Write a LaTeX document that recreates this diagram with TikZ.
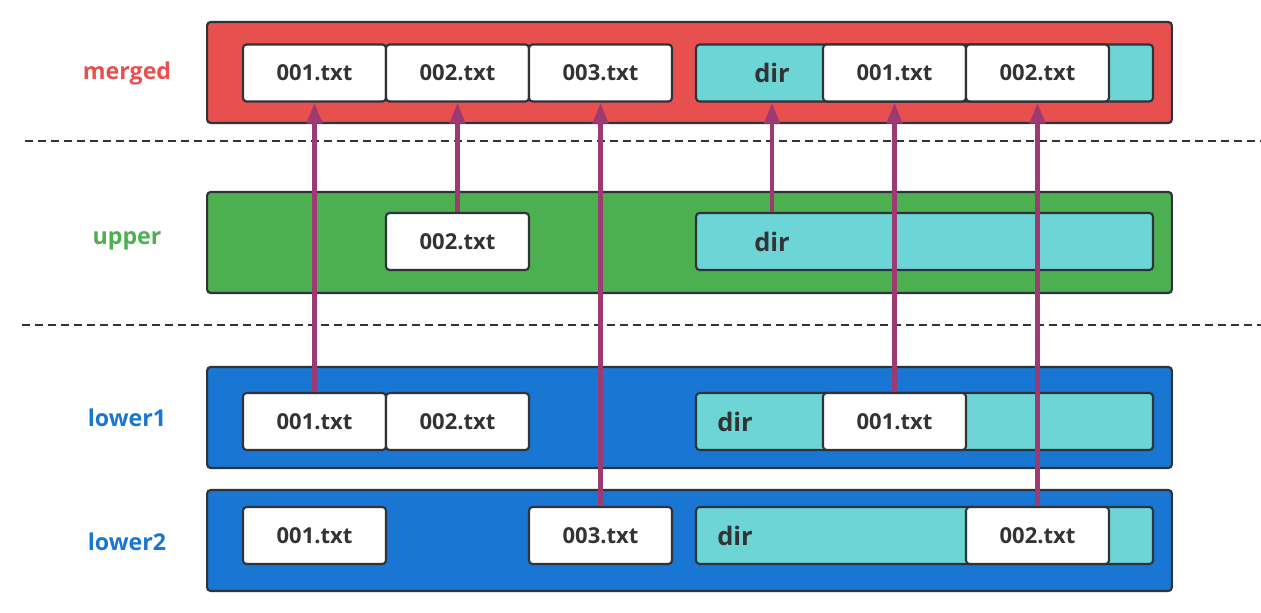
\documentclass[tikz,border=0pt]{standalone}
\usepackage{fontspec}
\setmainfont{Open Sans}
\usetikzlibrary{arrows.meta}
\definecolor{mergedred}{HTML}{E85050}
\definecolor{uppergreen}{HTML}{4CAF50}
\definecolor{lowerblue}{HTML}{1976D2}
\definecolor{dircyan}{HTML}{6DD5D6}
\definecolor{edgegray}{HTML}{2D3339}
\definecolor{textgray}{HTML}{333333}
\definecolor{linkpurple}{HTML}{9E3A72}
\tikzset{
    x=0.02cm, y=-0.02cm, % one unit is one pixel of the reference
    layer/.style={draw=edgegray, line width=1.2pt, rounded corners=2pt, minimum width=19.3cm, minimum height=2.02cm},
    dirbox/.style={draw=edgegray, line width=1.2pt, rounded corners=2pt, fill=dircyan, minimum width=9.14cm, minimum height=1.14cm},
    file/.style={draw=edgegray, line width=1.2pt, rounded corners=2pt, fill=white, text=textgray, font=\bfseries\fontsize{12.5}{14}\selectfont, minimum width=2.86cm, minimum height=1.14cm},
    dirtext/.style={text=textgray, font=\bfseries\fontsize{14.5}{16}\selectfont},
    tag/.style={font=\bfseries\fontsize{13.2}{15}\selectfont}, % the layer names on the left
    sep/.style={draw=edgegray, line width=1.5pt, dash pattern=on 0.17cm off 0.09cm},
    link/.style={draw=linkpurple, line width=2.6pt, -{Triangle[length=0.42cm, width=0.3cm]}},
}
\begin{document}
\begin{tikzpicture}
\useasboundingbox (0,0) rectangle (1261,612);
% layers
\node[layer, fill=mergedred]  (merged) at (689.5,72.5)  {};
\node[layer, fill=uppergreen] (upper)  at (689.5,242.5) {};
\node[layer, fill=lowerblue]  (lowa)   at (689.5,417.5) {};
\node[layer, fill=lowerblue]  (lowb)   at (689.5,540.5) {};
\node[tag, text=mergedred]  (tm) at (127,73)  {merged};
\node[tag, text=uppergreen] (tu) at (127,241) {upper};
\node[tag, text=lowerblue]  (ta) at (127,418) {lower1};
\node[tag, text=lowerblue]  (tb) at (127,542) {lower2};
\draw[sep] (25,141) -- (1261,141);
\draw[sep] (22,325) -- (1261,325);
% merged
\node[file] (m1) at (314.5,73) {001.txt};
\node[file] (m2) at (457.5,73) {002.txt};
\node[file] (m3) at (600.5,73) {003.txt};
\node[dirbox] (md) at (924.5,73) {};
\node[dirtext] (mdt) at (772,73) {dir};
\node[file] (md1) at (894.5,73)  {001.txt};
\node[file] (md2) at (1037.5,73) {002.txt};
% upper
\node[file] (u2) at (457.5,241.5) {002.txt};
\node[dirbox] (ud) at (924.5,241.5) {};
\node[dirtext] (udt) at (772,241.5) {dir};
% lower1
\node[file] (a1) at (314.5,421.5) {001.txt};
\node[file] (a2) at (457.5,421.5) {002.txt};
\node[dirbox] (ad) at (924.5,421.5) {};
\node[dirtext] (adt) at (735,421.5) {dir};
\node[file] (ad1) at (894.5,421.5) {001.txt};
% lower2
\node[file] (b1) at (314.5,535.5) {001.txt};
\node[file] (b3) at (600.5,535.5) {003.txt};
\node[dirbox] (bd) at (924.5,535.5) {};
\node[dirtext] (bdt) at (735,535.5) {dir};
\node[file] (bd2) at (1037.5,535.5) {002.txt};
% links
\draw[link] (a1.north)  -- (m1.south);
\draw[link] (u2.north)  -- (m2.south);
\draw[link] (b3.north)  -- (m3.south);
\draw[link] (ud.north -| udt) -- (md.south -| mdt);
\draw[link] (ad1.north) -- (md1.south);
\draw[link] (bd2.north) -- (md2.south);
\end{tikzpicture}
\end{document}
